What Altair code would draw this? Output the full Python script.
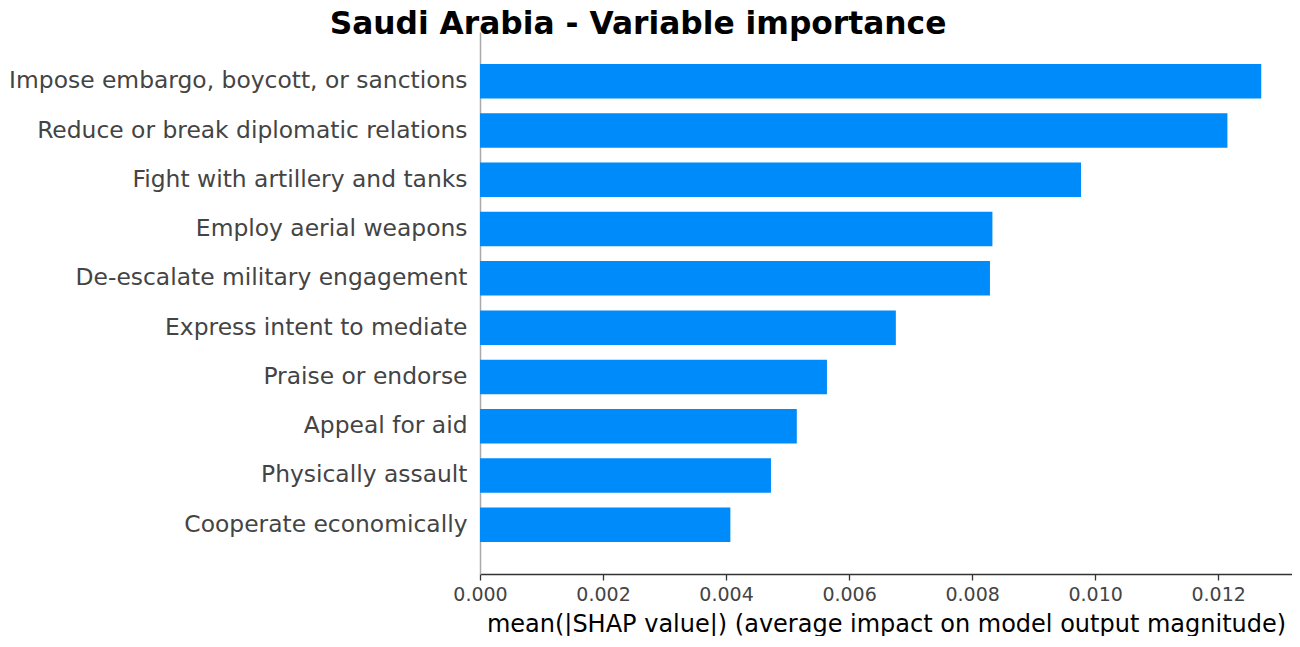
import altair as alt
import pandas as pd

features = [
    "Impose embargo, boycott, or sanctions",
    "Reduce or break diplomatic relations",
    "Fight with artillery and tanks",
    "Employ aerial weapons",
    "De-escalate military engagement",
    "Express intent to mediate",
    "Praise or endorse",
    "Appeal for aid",
    "Physically assault",
    "Cooperate economically",
]
importance = [0.01270, 0.01215, 0.00977, 0.00833, 0.00829,
              0.00676, 0.00564, 0.00515, 0.00473, 0.00407]
tick_values = [0.000, 0.002, 0.004, 0.006, 0.008, 0.010, 0.012]
x_max = 0.01320

df = pd.DataFrame({"feature": features, "value": importance})

chart = (
    alt.Chart(df)
    .mark_bar(color="#008bfb")
    .encode(
        y=alt.Y(
            "feature:N",
            sort=features,
            title=None,
            scale=alt.Scale(paddingInner=0.3, paddingOuter=0.65),
            axis=alt.Axis(
                ticks=False,
                labelFontSize=23.4,
                labelColor="#444444",
                labelPadding=13,
                domainColor="#aaaaaa",
                domainWidth=1.5,
                grid=False,
                labelLimit=1000,
            ),
        ),
        x=alt.X(
            "value:Q",
            title="mean(|SHAP value|) (average impact on model output magnitude)",
            scale=alt.Scale(domain=[0, x_max], nice=False, zero=True),
            axis=alt.Axis(
                values=tick_values,
                format=".3f",
                labelFontSize=19,
                labelColor="#444444",
                labelPadding=5,
                labelFlush=False,
                tickSize=6,
                tickColor="#333333",
                tickWidth=1.3,
                domainColor="#333333",
                domainWidth=1.5,
                grid=False,
                titleFontSize=24,
                titleFontWeight="normal",
                titleColor="#000000",
                titlePadding=8,
            ),
        ),
    )
    .properties(
        width=812,
        height=542,
        padding={"left": 0, "top": 0, "right": 0, "bottom": 0},
        title=alt.TitleParams(
            "Saudi Arabia - Variable importance",
            fontSize=31.3,
            fontWeight="bold",
            color="#000000",
            anchor="middle",
            dx=-248,
            offset=-8,
        ),
    )
    .configure(font="DejaVu Sans")
    .configure_view(stroke=None)
)

chart.save("out.html", embed_options={"renderer": "svg", "actions": False})
